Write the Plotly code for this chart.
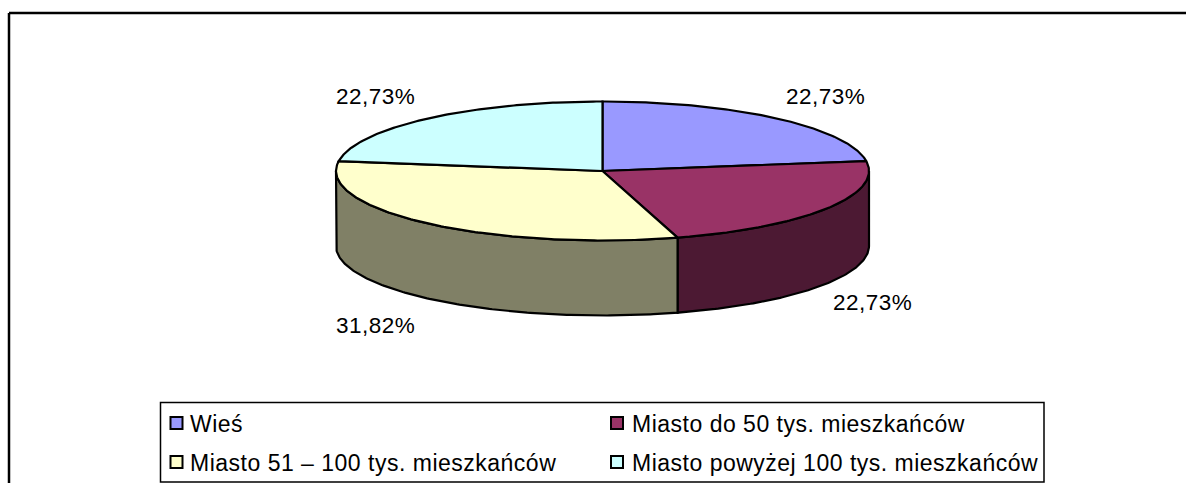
import math
import plotly.graph_objects as go

categories = ["Wieś", "Miasto do 50 tys. mieszkańców", "Miasto 51 – 100 tys. mieszkańców", "Miasto powyżej 100 tys. mieszkańców"]
values = [22.73, 22.73, 31.82, 22.73]
labels = ["22,73%", "22,73%", "31,82%", "22,73%"]
top_colors = ["#9999FF", "#993366", "#FFFFCC", "#CCFFFF"]
side_colors = ["#4C4C80", "#4C1933", "#808066", "#668080"]

CX, CY, A, B, DEPTH = 602.5, 171, 266.5, 69.5, 75
W, H = 1186, 483


def arc(a0, a1, dy=0):
    n = max(2, int(abs(a1 - a0) * 1.5))
    xs, ys = [], []
    for i in range(n + 1):
        t = math.radians(a0 + (a1 - a0) * i / n)
        xs.append(CX + A * math.sin(t))
        ys.append(CY - B * math.cos(t) + dy)
    return xs, ys


fig = go.Figure()
total = sum(values)
angle = 0
wedges = []
for v in values:
    wedges.append((angle, angle + v / total * 360))
    angle += v / total * 360

# side walls of the cylinder: only the front half (90..270 deg) shows
for (a0, a1), col, name in zip(wedges, side_colors, categories):
    s, e = max(a0, 90), min(a1, 270)
    if e <= s:
        continue
    x1, y1 = arc(s, e)
    x2, y2 = arc(e, s, DEPTH)
    fig.add_trace(go.Scatter(x=x1 + x2 + [x1[0]], y=y1 + y2 + [y1[0]], mode="lines", fill="toself",
                             fillcolor=col, line=dict(color="black", width=2.2), hoverinfo="skip", showlegend=False))

# top face
for (a0, a1), col, name, v in zip(wedges, top_colors, categories, labels):
    xa, ya = arc(a0, a1)
    fig.add_trace(go.Scatter(x=[CX] + xa + [CX], y=[CY] + ya + [CY], mode="lines", fill="toself",
                             fillcolor=col, line=dict(color="black", width=2.2), name=name,
                             text=v, hoverinfo="name+text", showlegend=False))

# legend swatches
sw_x = [176.5, 617, 176.5, 617]
sw_y = [423, 423, 462, 462]
fig.add_trace(go.Scatter(x=sw_x, y=sw_y, mode="markers", hoverinfo="skip", showlegend=False,
                         marker=dict(symbol="square", size=12, color=top_colors, line=dict(color="black", width=2))))

FONT = "Liberation Sans, Arial, sans-serif"
annotations = []
for txt, x, y in zip(labels, [784, 831, 334, 334], [96, 302, 325, 96]):
    annotations.append(dict(x=x, y=y, text=txt, xanchor="left", yanchor="middle", align="left", showarrow=False,
                            font=dict(family=FONT, size=22.5, color="black"), xref="x", yref="y"))
for txt, x, y in zip(categories, [188, 630, 188, 630], [424, 424, 463, 463]):
    annotations.append(dict(x=x, y=y, text=txt, xanchor="left", yanchor="middle", align="left", showarrow=False,
                            font=dict(family=FONT, size=23, color="black"), xref="x", yref="y"))

shapes = [
    dict(type="line", x0=9, x1=W, y0=13, y1=13, line=dict(color="black", width=2.5)),
    dict(type="line", x0=9, x1=9, y0=13, y1=H, line=dict(color="black", width=2.5)),
    dict(type="rect", x0=160.5, x1=1044, y0=402.5, y1=482, line=dict(color="black", width=1.5), layer="below"),
]

fig.update_layout(
    width=W, height=H, margin=dict(l=0, r=0, t=0, b=0),
    paper_bgcolor="white", plot_bgcolor="white", showlegend=False,
    xaxis=dict(range=[0, W], visible=False, fixedrange=True),
    yaxis=dict(range=[H, 0], visible=False, fixedrange=True),
    annotations=annotations, shapes=shapes,
)
post = """
document.body.style.margin='0';document.documentElement.style.overflow='hidden';
document.querySelectorAll('.annotation-text').forEach(function(t){
  t.style.letterSpacing = '0.5px';
});
"""
fig.write_html("out.html", config={"displayModeBar": False}, post_script=post)
